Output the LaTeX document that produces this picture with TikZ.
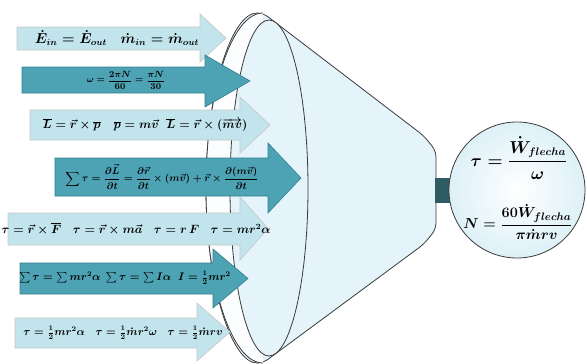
\documentclass[tikz,border=0pt]{standalone}
\usepackage{amsmath}
\usepackage{amssymb}
\definecolor{lightfill}{HTML}{C2E4EC}
\definecolor{darkfill}{HTML}{4DA2B4}
\definecolor{darkedge}{HTML}{357F8E}
\definecolor{funnelfill}{HTML}{E4F4FA}
\definecolor{neckfill}{HTML}{2E5C63}
\definecolor{edgegray}{HTML}{3A3A3A}
\newcommand{\flowarrow}[8]{%
  \path[#1] (#2,#3) -- (#5,#3) -- (#5,#6) -- (#8,{(#6+#7)/2}) -- (#5,#7) -- (#5,#4) -- (#2,#4) -- cycle;}
\begin{document}
\begin{tikzpicture}[x=1pt,y=-1pt,
  lightarrow/.style={fill=lightfill,draw=white!55!gray,line width=0.6pt},
  darkarrow/.style={fill=darkfill,draw=darkedge,line width=0.6pt},
  txt/.style={inner sep=0pt,font=\boldmath},
  rimline/.style={draw=edgegray,line width=0.8pt}]
\useasboundingbox (0,0) rectangle (587,364);
% funnel body
\path[fill=funnelfill,rimline,rounded corners=6]
  (263,363) arc[start angle=90,end angle=270,x radius=57,y radius=175]
  -- (424,136) -- (436,151) -- (436,229) -- (424,244) -- cycle;
% rim band
\fill[white!85!funnelfill]
  (263,363) arc[start angle=90,end angle=270,x radius=57,y radius=175] -- cycle;
\path[fill=funnelfill,rimline] (269,188) ellipse[x radius=39,y radius=168];
\draw[rimline] (263,363) arc[start angle=90,end angle=270,x radius=57,y radius=175];
% neck and circle
\node[rectangle,fill=neckfill,minimum width=17pt,minimum height=25pt,inner sep=0pt] (neck) at (443,190) {};
\node[circle,draw=edgegray,line width=0.8pt,inner color=white,outer color=funnelfill!80!lightfill,minimum size=136pt,inner sep=0pt] (out) at (517,190) {};
\node[txt,font=\fontsize{16}{18}\selectfont\boldmath] (f1) at (519,158) {$\tau = \dfrac{\dot{W}_{flecha}}{\omega}$};
\node[txt,font=\fontsize{15.5}{18}\selectfont\boldmath] (f2) at (518,222) {$N = \dfrac{60\dot{W}_{flecha}}{\pi\dot{m}rv}$};
% arrows
\flowarrow{lightarrow}{17}{27}{50}{200}{14}{62}{226}
\node[txt,font=\fontsize{13.5}{15}\selectfont\boldmath] (a1) at (117,38) {$\dot{E}_{in} = \dot{E}_{out} \quad \dot{m}_{in} = \dot{m}_{out}$};
\flowarrow{darkarrow}{22}{67}{93}{205}{55}{107}{250}
\node[txt,font=\fontsize{9}{10}\selectfont\boldmath] (a2) at (126,80) {$\omega = \dfrac{2\pi N}{60} = \dfrac{\pi N}{30}$};
\flowarrow{lightarrow}{30}{110}{140}{240}{97}{153}{270}
\node[txt,font=\fontsize{13}{15}\selectfont\boldmath] (a3) at (145,125) {$\overline{L} = \vec{r}\times\overline{p} \quad \overline{p} = m\vec{v} \;\; \overline{L} = \vec{r}\times(\overrightarrow{mv})$};
\flowarrow{darkarrow}{55}{158}{196}{268}{143}{213}{301}
\node[txt,font=\fontsize{10}{12}\selectfont\boldmath] (a4) at (162,177) {$\displaystyle\sum\tau = \dfrac{\partial\vec{L}}{\partial t} = \dfrac{\partial\vec{r}}{\partial t}\times(m\vec{v}) + \vec{r}\times\dfrac{\partial(m\vec{v})}{\partial t}$};
\flowarrow{lightarrow}{8}{213}{245}{240}{197}{260}{268}
\node[txt,font=\fontsize{11.5}{13}\selectfont\boldmath] (a5) at (136,229) {$\tau = \vec{r}\times\overline{F} \quad \tau = \vec{r}\times m\vec{a} \quad \tau = r\,F \quad \tau = mr^2\alpha$};
\flowarrow{darkarrow}{20}{263}{294}{213}{249}{308}{248}
\node[txt,font=\fontsize{10.5}{12}\selectfont\boldmath] (a6) at (125,278) {$\sum\tau = \sum mr^2\alpha \; \sum\tau = \sum I\alpha \;\; I = \tfrac{1}{2}mr^2$};
\flowarrow{lightarrow}{15}{318}{348}{197}{303}{361}{230}
\node[txt,font=\fontsize{10.5}{12}\selectfont\boldmath] (a7) at (123,333) {$\tau = \tfrac{1}{2}mr^2\alpha \quad \tau = \tfrac{1}{2}\dot{m}r^2\omega \quad \tau = \tfrac{1}{2}\dot{m}rv$};
\end{tikzpicture}
\end{document}
